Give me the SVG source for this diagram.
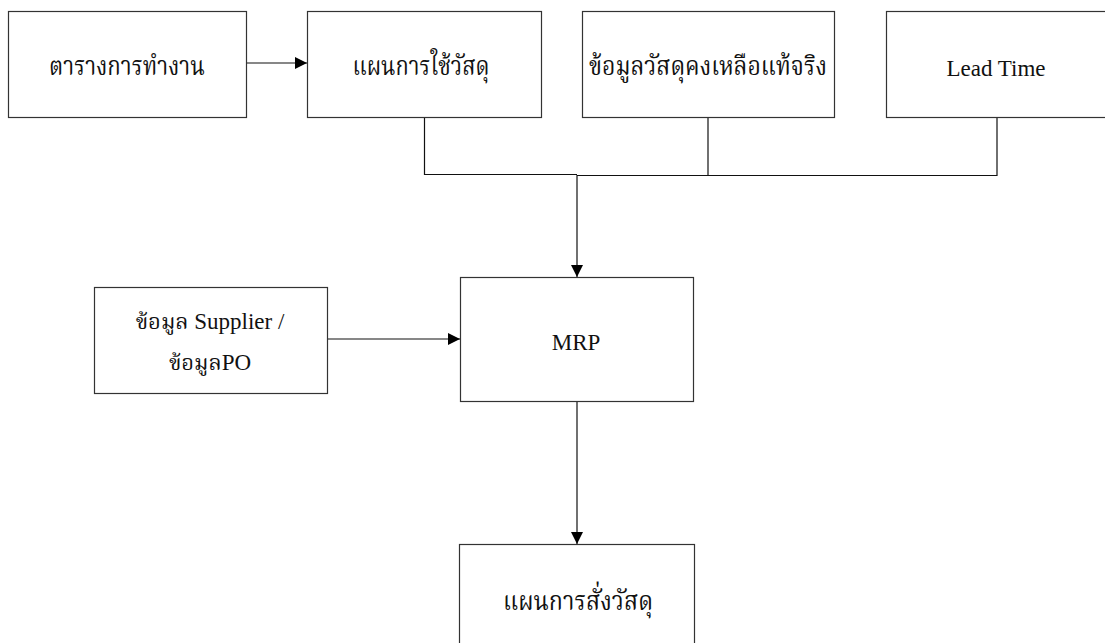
<svg xmlns="http://www.w3.org/2000/svg" width="1105" height="643" viewBox="0 0 1105 643">
  <style>
    .box { fill: #ffffff; stroke: #333333; stroke-width: 1.2; }
    .lbl { font-family: "Liberation Serif", "Noto Serif Thai", "Noto Sans Thai", serif; font-size: 23px; fill: #111111; text-anchor: middle; }
    .thai { font-size: 27px; }
    .thai-s { font-size: 22px; }
    .wire { fill: none; stroke: #111111; stroke-width: 1.2; }
  </style>
  <defs>
    <marker id="arrow" viewBox="0 0 12 12" refX="12" refY="6" markerWidth="12" markerHeight="12" markerUnits="userSpaceOnUse" orient="auto">
      <path d="M0,0 L12,6 L0,12 Z" fill="#000000"/>
    </marker>
  </defs>
  <rect x="0" y="0" width="1105" height="643" fill="#ffffff"/>

  <g id="connectors">
    <path class="wire" d="M246,63 H307" marker-end="url(#arrow)"/>
    <path class="wire" d="M424.5,117 V174.5 H577"/>
    <path class="wire" d="M708,117 V175.5"/>
    <path class="wire" d="M997,117 V175.5 H577"/>
    <path class="wire" d="M577,175 V277" marker-end="url(#arrow)"/>
    <path class="wire" d="M327,339 H460" marker-end="url(#arrow)"/>
    <path class="wire" d="M577,402 V544" marker-end="url(#arrow)"/>
  </g>

  <g id="schedule">
    <rect class="box" x="8.5" y="11.5" width="238" height="106"/>
    <text class="lbl thai" x="127" y="75" textLength="156" lengthAdjust="spacingAndGlyphs">ตารางการทำงาน</text>
  </g>
  <g id="usage-plan">
    <rect class="box" x="307.5" y="11.5" width="234" height="106"/>
    <text class="lbl thai" x="421" y="75" textLength="137" lengthAdjust="spacingAndGlyphs">แผนการใช้วัสดุ</text>
  </g>
  <g id="stock-on-hand">
    <rect class="box" x="582.5" y="11.5" width="252" height="106"/>
    <text class="lbl thai" x="708" y="75" textLength="238" lengthAdjust="spacingAndGlyphs">ข้อมูลวัสดุคงเหลือแท้จริง</text>
  </g>
  <g id="lead-time">
    <rect class="box" x="886.5" y="11.5" width="230" height="106"/>
    <text class="lbl" x="996" y="76">Lead Time</text>
  </g>
  <g id="supplier-po">
    <rect class="box" x="94.5" y="287.5" width="233" height="106"/>
    <text class="lbl" x="210" y="329"><tspan class="thai-s">ข้อมูล</tspan> Supplier /</text>
    <text class="lbl" x="210" y="370"><tspan class="thai-s">ข้อมูล</tspan>PO</text>
  </g>
  <g id="mrp">
    <rect class="box" x="460.5" y="277.5" width="233" height="124"/>
    <text class="lbl" x="576" y="350">MRP</text>
  </g>
  <g id="order-plan">
    <rect class="box" x="459.5" y="544.5" width="235" height="130"/>
    <text class="lbl thai" x="578" y="610" textLength="150" lengthAdjust="spacingAndGlyphs">แผนการสั่งวัสดุ</text>
  </g>
</svg>
